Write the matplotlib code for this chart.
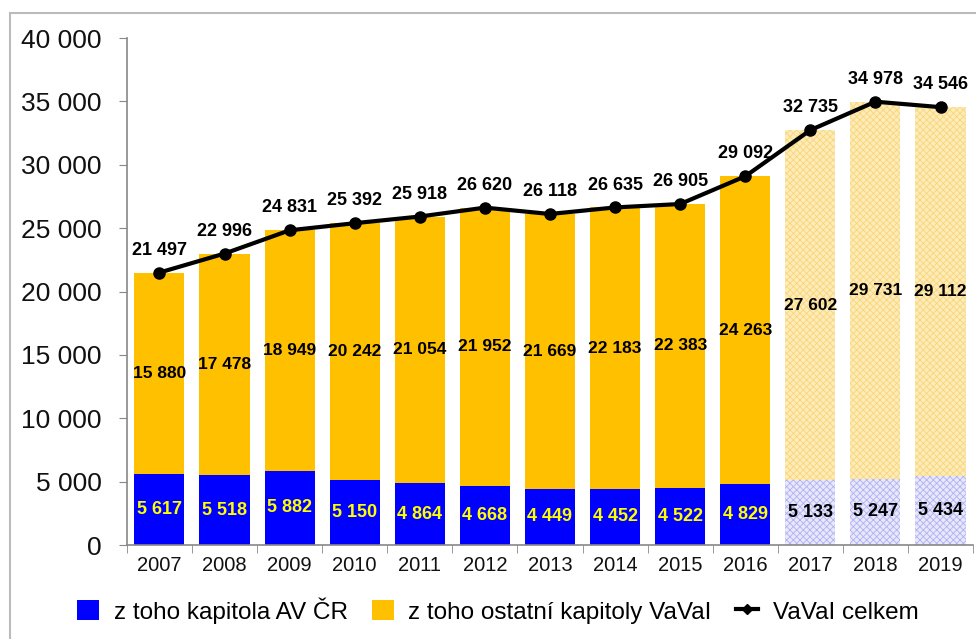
import matplotlib
matplotlib.use("Agg")
import matplotlib.pyplot as plt
from matplotlib.patches import Rectangle, Patch
from matplotlib.lines import Line2D
from matplotlib import font_manager

years = ["2007", "2008", "2009", "2010", "2011", "2012", "2013", "2014", "2015", "2016", "2017", "2018", "2019"]
av_cr = [5617, 5518, 5882, 5150, 4864, 4668, 4449, 4452, 4522, 4829, 5133, 5247, 5434]
ostatni = [15880, 17478, 18949, 20242, 21054, 21952, 21669, 22183, 22383, 24263, 27602, 29731, 29112]
celkem = [21497, 22996, 24831, 25392, 25918, 26620, 26118, 26635, 26905, 29092, 32735, 34978, 34546]
n_actual = 10  # first 10 years are actual, last 3 are planned (hatched)

names = {f.name for f in font_manager.fontManager.ttflist}
fam = ["Liberation Sans Narrow", "Liberation Sans", "DejaVu Sans"] if "Liberation Sans Narrow" in names else ["Liberation Sans", "DejaVu Sans"]
plt.rcParams['font.family'] = fam
plt.rcParams['hatch.linewidth'] = 0.6

def fmt(v):
    return f"{v:,}".replace(",", " ")

fig = plt.figure(figsize=(9.76, 6.39), dpi=100)
ax = fig.add_axes([0.130, 0.147, 0.867, 0.7935])

x = list(range(len(years)))
w = 0.77
blue = "#0000FF"
yellow = "#FFC000"
for i in x:
    if i < n_actual:
        ax.bar(i, av_cr[i], w, color=blue, zorder=2)
        ax.bar(i, ostatni[i], w, bottom=av_cr[i], color=yellow, zorder=2)
    else:
        ax.bar(i, av_cr[i], w, facecolor="#E8E8FB", edgecolor="#B0B0F2", hatch="xxxxx", linewidth=0, zorder=2)
        ax.bar(i, ostatni[i], w, bottom=av_cr[i], facecolor="#FDEBB8", edgecolor="#F8D57A", hatch="xxxxx", linewidth=0, zorder=2)

ax.plot(x, celkem, color="black", lw=3, marker="o", ms=8, zorder=4)

for i in x:
    ax.text(i, av_cr[i] / 2, fmt(av_cr[i]), ha="center", va="center", fontsize=13, fontweight="bold",
            color="#FFFF00" if i < n_actual else "black", zorder=5)
    ax.text(i, av_cr[i] + ostatni[i] / 2, fmt(ostatni[i]), ha="center", va="center", fontsize=12.5,
            fontweight="bold", color="black", zorder=5)
    ax.annotate(fmt(celkem[i]), (i, celkem[i]), xytext=(0, 10), textcoords="offset points",
                ha="center", va="bottom", fontsize=13, fontweight="bold", color="black", zorder=5)

ax.set_xlim(-0.5, len(years) - 0.5)
ax.set_ylim(0, 40000)
ax.set_yticks(range(0, 40001, 5000))
ax.set_yticklabels([fmt(v) for v in range(0, 40001, 5000)], fontsize=19, color="#111111")
ax.set_xticks(x)
ax.set_xticklabels(years, fontsize=14.5, color="#111111")
ax.set_xticks([i + 0.5 for i in range(-1, len(years))], minor=True)
ax.tick_params(axis="x", which="major", length=0, pad=8)
ax.tick_params(axis="x", which="minor", length=6, color="#888888")
ax.tick_params(axis="y", length=6, color="#888888", pad=12)
for s in ["top", "right"]:
    ax.spines[s].set_visible(False)
for s in ["left", "bottom"]:
    ax.spines[s].set_color("#888888")
    ax.spines[s].set_linewidth(1.2)

handles = [Patch(facecolor=blue, label="z toho kapitola AV ČR"),
           Patch(facecolor=yellow, label="z toho ostatní kapitoly VaVaI"),
           Line2D([0], [0], color="black", lw=3, marker="D", ms=5, label="VaVaI celkem")]
fig.legend(handles=handles, loc="lower center", bbox_to_anchor=(0.51, -0.01), ncol=3, frameon=False,
           fontsize=17.5, handlelength=0.9, handleheight=0.9, columnspacing=1.0, handletextpad=0.6)

fig.add_artist(Rectangle((0.0105, -0.01), 1.0, 0.9895, transform=fig.transFigure, fill=False,
                         edgecolor="#BBBBBB", lw=1.5))

fig.savefig("out.png", dpi=100)
